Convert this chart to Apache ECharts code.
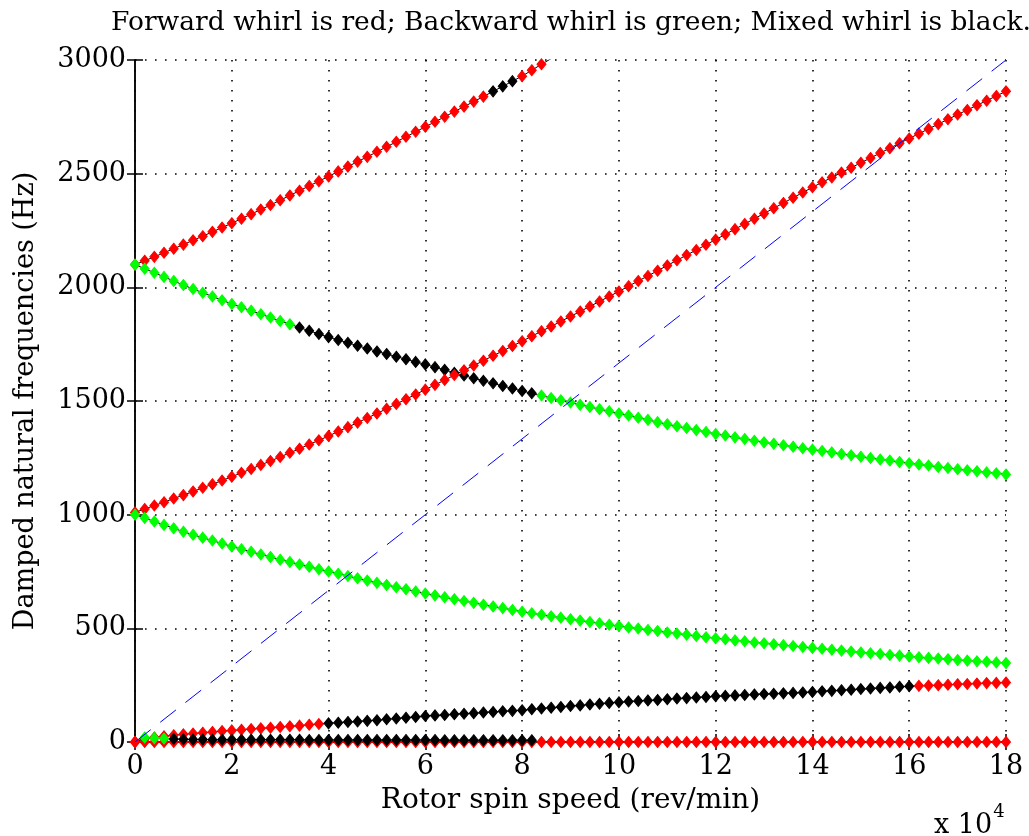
<!DOCTYPE html>
<html>
<head>
<meta charset="utf-8">
<script src="https://cdn.jsdelivr.net/npm/echarts@6/dist/echarts.min.js"></script>
<style>
  html, body { margin: 0; padding: 0; background: #fff; }
  #chart { width: 1029px; height: 836px; }
</style>
</head>
<body>
<div id="chart"></div>
<script>
// rotor spin speed, x 10^4 rev/min (sampling used by every mode)
const speed = [
  0, 0.2, 0.4, 0.6, 0.8, 1, 1.2, 1.4, 1.6, 1.8, 2, 2.2, 2.4, 2.6, 2.8, 3, 3.2, 3.4, 3.6, 3.8,
  4, 4.2, 4.4, 4.6, 4.8, 5, 5.2, 5.4, 5.6, 5.8, 6, 6.2, 6.4, 6.6, 6.8, 7, 7.2, 7.4, 7.6, 7.8,
  8, 8.2, 8.4, 8.6, 8.8, 9, 9.2, 9.4, 9.6, 9.8, 10, 10.2, 10.4, 10.6, 10.8, 11, 11.2, 11.4, 11.6, 11.8,
  12, 12.2, 12.4, 12.6, 12.8, 13, 13.2, 13.4, 13.6, 13.8, 14, 14.2, 14.4, 14.6, 14.8, 15, 15.2, 15.4, 15.6, 15.8,
  16, 16.2, 16.4, 16.6, 16.8, 17, 17.2, 17.4, 17.6, 17.8, 18
];

// damped natural frequencies (Hz), one array per mode
const mode1 = [
  2100, 2117, 2134, 2152, 2170, 2188, 2207, 2225, 2244, 2263, 2282, 2302, 2322, 2342, 2362, 2383, 2404, 2425, 2446, 2467,
  2488, 2510, 2531, 2553, 2574, 2596, 2618, 2640, 2662, 2684, 2706, 2728, 2750, 2773, 2795, 2817, 2839, 2862, 2884, 2907,
  2929, 2955, 2981, 3006
];
const mode2 = [
  2100, 2082, 2064, 2046, 2028, 2010, 1993, 1976, 1960, 1943, 1927, 1912, 1897, 1882, 1867, 1852, 1838, 1823, 1809, 1795,
  1781, 1768, 1756, 1743, 1731, 1718, 1707, 1695, 1684, 1672, 1661, 1649, 1637, 1624, 1612, 1600, 1589, 1578, 1566, 1555,
  1544, 1534, 1524, 1513, 1503, 1493, 1483, 1474, 1464, 1455, 1445, 1436, 1426, 1417, 1407, 1398, 1389, 1381, 1372, 1364,
  1355, 1348, 1340, 1333, 1325, 1318, 1312, 1305, 1299, 1292, 1286, 1280, 1274, 1267, 1261, 1255, 1249, 1243, 1238, 1232,
  1226, 1221, 1216, 1210, 1205, 1200, 1195, 1191, 1186, 1182, 1177
];
const mode3 = [
  1010, 1025, 1040, 1055, 1071, 1086, 1102, 1118, 1134, 1150, 1167, 1184, 1201, 1219, 1236, 1254, 1272, 1290, 1309, 1327,
  1346, 1366, 1385, 1405, 1425, 1445, 1466, 1487, 1508, 1529, 1550, 1571, 1592, 1614, 1635, 1656, 1677, 1699, 1720, 1742,
  1763, 1785, 1807, 1828, 1850, 1872, 1894, 1916, 1938, 1960, 1982, 2005, 2028, 2050, 2073, 2096, 2119, 2142, 2164, 2187,
  2210, 2233, 2256, 2279, 2302, 2325, 2348, 2371, 2394, 2417, 2440, 2462, 2483, 2505, 2526, 2548, 2569, 2591, 2612, 2634,
  2655, 2676, 2697, 2718, 2739, 2760, 2780, 2801, 2821, 2842, 2862
];
const mode4 = [
  1000, 985, 970, 955, 940, 925, 912, 899, 886, 873, 860, 848, 837, 825, 814, 802, 792, 781, 771, 760,
  750, 740, 730, 720, 710, 700, 691, 681, 672, 662, 653, 645, 637, 628, 620, 612, 604, 596, 589, 581,
  573, 566, 560, 553, 547, 540, 534, 528, 522, 516, 510, 504, 499, 493, 488, 482, 477, 472, 466, 461,
  456, 452, 447, 443, 438, 434, 430, 426, 422, 418, 414, 410, 406, 402, 398, 394, 390, 387, 383, 380,
  376, 373, 370, 367, 364, 361, 358, 355, 353, 350, 347
];
const mode5 = [
  0, 14, 20, 25, 30, 34, 37, 41, 44, 48, 51, 54, 57, 60, 63, 66, 69, 72, 76, 79,
  82, 85, 88, 90, 93, 96, 100, 103, 107, 110, 114, 117, 119, 122, 124, 127, 130, 132, 135, 137,
  140, 144, 147, 151, 154, 158, 161, 165, 168, 172, 175, 178, 180, 183, 185, 188, 191, 193, 196, 198,
  201, 203, 205, 207, 209, 211, 212, 214, 216, 218, 220, 223, 225, 228, 230, 233, 235, 238, 240, 243,
  245, 247, 248, 250, 252, 254, 255, 257, 259, 260, 262
];
const mode6 = [
  0, 20, 17, 15, 13, 12, 11, 11, 10, 10, 10, 10, 10, 10, 10, 10, 10, 10, 9, 9,
  9, 9, 9, 9, 9, 9, 9, 9, 9, 9, 9, 9, 8, 8, 8, 8, 8, 8, 8, 8,
  8, 8
];
const mode7 = [
  0, 0, 0, 0, 0, 0, 0, 0, 0, 0, 0, 0, 0, 0, 0, 0, 0, 0, 0, 0,
  0, 0, 0, 0, 0, 0, 0, 0, 0, 0, 0, 0, 0, 0, 0, 0, 0, 0, 0, 0,
  0, 0, 0, 0, 0, 0, 0, 0, 0, 0, 0, 0, 0, 0, 0, 0, 0, 0, 0, 0,
  0, 0, 0, 0, 0, 0, 0, 0, 0, 0, 0, 0, 0, 0, 0, 0, 0, 0, 0, 0,
  0, 0, 0, 0, 0, 0, 0, 0, 0, 0, 0
];

// whirl type along each mode: [speed from which it holds, type]
// F = forward (red), B = backward (green), M = mixed (black)
const whirl1 = [[0, 'F'], [7.4, 'M'], [8.0, 'F']];
const whirl2 = [[0, 'B'], [3.4, 'M'], [8.4, 'B']];
const whirl3 = [[0, 'F']];
const whirl4 = [[0, 'B']];
const whirl5 = [[0, 'F'], [4.0, 'M'], [16.2, 'F']];
const whirl6 = [[0, 'F'], [0.2, 'B'], [0.8, 'M']];
const whirl7 = [[0, 'F']];

// 1x synchronous excitation line
const syncSpeed = [0, 18];
const syncFreq = [0, 3000];

const xTicks = [0, 2, 4, 6, 8, 10, 12, 14, 16, 18];

const whirlColor = { F: '#ff0000', B: '#00ff00', M: '#000000' };
const FONT = 'DejaVu Serif';

function typeAt(breaks, x) {
    let t = breaks[0][1];
    breaks.forEach(b => { if (x >= b[0] - 1e-9) t = b[1]; });
    return t;
}

function modeSeries(values, breaks) {
    let data = [];
    values.forEach((v, i) => {
        let c = whirlColor[typeAt(breaks, speed[i])];
        data.push({ value: [speed[i], v], itemStyle: { color: c, borderColor: c } });
    });
    return {
        type: 'line',
        data: data,
        symbol: 'diamond',
        symbolSize: [9, 11],
        showSymbol: true,
        showAllSymbol: true,
        clip: true,
        lineStyle: { color: '#000', width: 1 },
        z: 3
    };
}

let chart = echarts.init(document.getElementById('chart'), null, { renderer: 'canvas' });

let gridDots = { show: true, lineStyle: { color: '#000', width: 1.6, type: [1.6, 8.4] } };
let boxLine = { show: true, lineStyle: { color: '#000', width: 1.5 } };
let boxTick = { show: true, inside: true, length: 8, lineStyle: { color: '#000', width: 1.5 } };

let option = {
    backgroundColor: '#fff',
    animation: false,
    title: {
        text: 'Forward whirl is red; Backward whirl is green; Mixed whirl is black.',
        left: 566,
        top: 5,
        textAlign: 'center',
        textStyle: { fontFamily: FONT, fontSize: 26.5, fontWeight: 'normal', color: '#000' }
    },
    grid: { left: 135, right: 23, top: 60, bottom: 94 },
    xAxis: [{
        type: 'value',
        min: 0, max: 18, interval: 2,
        name: 'Rotor spin speed (rev/min)',
        nameLocation: 'middle',
        nameGap: 45,
        nameTextStyle: { fontFamily: FONT, fontSize: 28, color: '#000' },
        axisLine: boxLine,
        axisTick: boxTick,
        axisLabel: { fontFamily: FONT, fontSize: 27, color: '#000', margin: 11,
            formatter: v => xTicks.indexOf(v) >= 0 ? String(v) : '' },
        splitLine: gridDots
    }, {
        type: 'value',
        position: 'top',
        min: 0, max: 18, interval: 2,
        axisLine: boxLine,
        axisTick: boxTick,
        axisLabel: { show: false },
        splitLine: { show: false }
    }],
    yAxis: [{
        type: 'value',
        min: 0, max: 3000, interval: 500,
        name: 'Damped natural frequencies (Hz)',
        nameLocation: 'middle',
        nameGap: 96,
        nameRotate: 90,
        nameTextStyle: { fontFamily: FONT, fontSize: 27, color: '#000' },
        axisLine: boxLine,
        axisTick: boxTick,
        axisLabel: { fontFamily: FONT, fontSize: 27, color: '#000', margin: 9,
            formatter: v => String(v) },
        splitLine: gridDots
    }, {
        type: 'value',
        position: 'right',
        min: 0, max: 3000, interval: 500,
        axisLine: boxLine,
        axisTick: boxTick,
        axisLabel: { show: false },
        splitLine: { show: false }
    }],
    graphic: [{
        type: 'text',
        left: 934,
        top: 803,
        style: {
            text: '{b|x 10}{s|4}',
            rich: {
                b: { fontFamily: FONT, fontSize: 27, fill: '#000', verticalAlign: 'bottom' },
                s: { fontFamily: FONT, fontSize: 18, fill: '#000', padding: [0, 0, 18, 1] }
            }
        }
    }],
    series: [
        modeSeries(mode1, whirl1),
        modeSeries(mode2, whirl2),
        modeSeries(mode3, whirl3),
        modeSeries(mode4, whirl4),
        modeSeries(mode7, whirl7),
        modeSeries(mode5, whirl5),
        modeSeries(mode6, whirl6),
        {
            type: 'line',
            data: syncSpeed.map((s, i) => [s, syncFreq[i]]),
            symbol: 'none',
            lineStyle: { color: '#0000ff', width: 1, type: [20, 12] },
            z: 4
        }
    ]
};

chart.setOption(option);
</script>
</body>
</html>
